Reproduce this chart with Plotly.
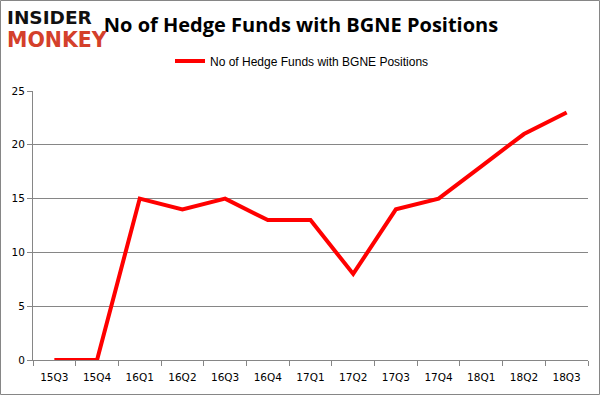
import plotly.graph_objects as go

quarters = ["15Q3", "15Q4", "16Q1", "16Q2", "16Q3", "16Q4", "17Q1", "17Q2", "17Q3", "17Q4", "18Q1", "18Q2", "18Q3"]
funds = [0, 0, 15, 14, 15, 13, 13, 8, 14, 15, 18, 21, 23]
series_name = "No of Hedge Funds with BGNE Positions"

W, H = 601, 396
ml, mr, mt, mb = 33, 13, 91, 36
pw, ph = W - ml - mr, H - mt - mb

def px_x(x):
    return (x - ml) / pw

def px_y(y):
    return (H - mb - y) / ph

fig = go.Figure()
fig.add_trace(go.Scatter(
    x=quarters, y=funds, mode="lines", name=series_name,
    line=dict(color="#ff0000", width=4),
))

fig.update_layout(
    width=W, height=H,
    margin=dict(l=ml, r=mr, t=mt, b=mb, autoexpand=False),
    paper_bgcolor="white", plot_bgcolor="white",
    showlegend=True,
    legend=dict(orientation="h", x=px_x(302), xanchor="center", y=px_y(61), yanchor="middle",
                xref="paper", yref="paper",
                font=dict(family="Liberation Sans", size=12, color="#000000"),
                bgcolor="rgba(0,0,0,0)", itemwidth=30),
    title=dict(text="No of Hedge Funds with BGNE Positions", x=(301) / W, xanchor="center",
               y=1 - 25 / H, yanchor="middle",
               font=dict(family="Open Sans", size=20, color="#000000", weight="bold")),
    xaxis=dict(
        type="category", tickson="boundaries", ticks="outside", ticklen=5, tickcolor="#868686",
        showline=True, linecolor="#868686", linewidth=1, showgrid=False,
        tickfont=dict(family="DejaVu Sans", size=10.5, color="#000000"),
        ticklabelstandoff=7,
        range=[-0.5, len(quarters) - 0.5],
    ),
    yaxis=dict(
        range=[0, 25], dtick=5, showgrid=True, gridcolor="#868686", gridwidth=1,
        showline=True, linecolor="#868686", linewidth=1, ticks="outside", ticklen=5,
        tickcolor="#868686", zeroline=False,
        tickfont=dict(family="DejaVu Sans", size=10.5, color="#000000"),
    ),
)

# logo text
fig.add_annotation(text="<b>INSIDER</b>", x=px_x(5), y=px_y(18), xref="paper", yref="paper",
                   xanchor="left", yanchor="middle", showarrow=False,
                   font=dict(family="DejaVu Sans", size=18.5, color="#111111"))
fig.add_annotation(text="<b>MONKEY</b>", x=px_x(5), y=px_y(40), xref="paper", yref="paper",
                   xanchor="left", yanchor="middle", showarrow=False,
                   font=dict(family="DejaVu Sans", size=20.5, color="#d4402b"))

# outer frame
fig.add_shape(type="rect", xref="paper", yref="paper",
              x0=px_x(0.5), x1=px_x(W - 1.5), y0=px_y(H - 1.5), y1=px_y(0.5),
              line=dict(color="#868686", width=1), layer="below")

fig.write_html("out.html", config={"displayModeBar": False},
               post_script="document.body.style.margin='0';document.body.style.overflow='hidden';")
